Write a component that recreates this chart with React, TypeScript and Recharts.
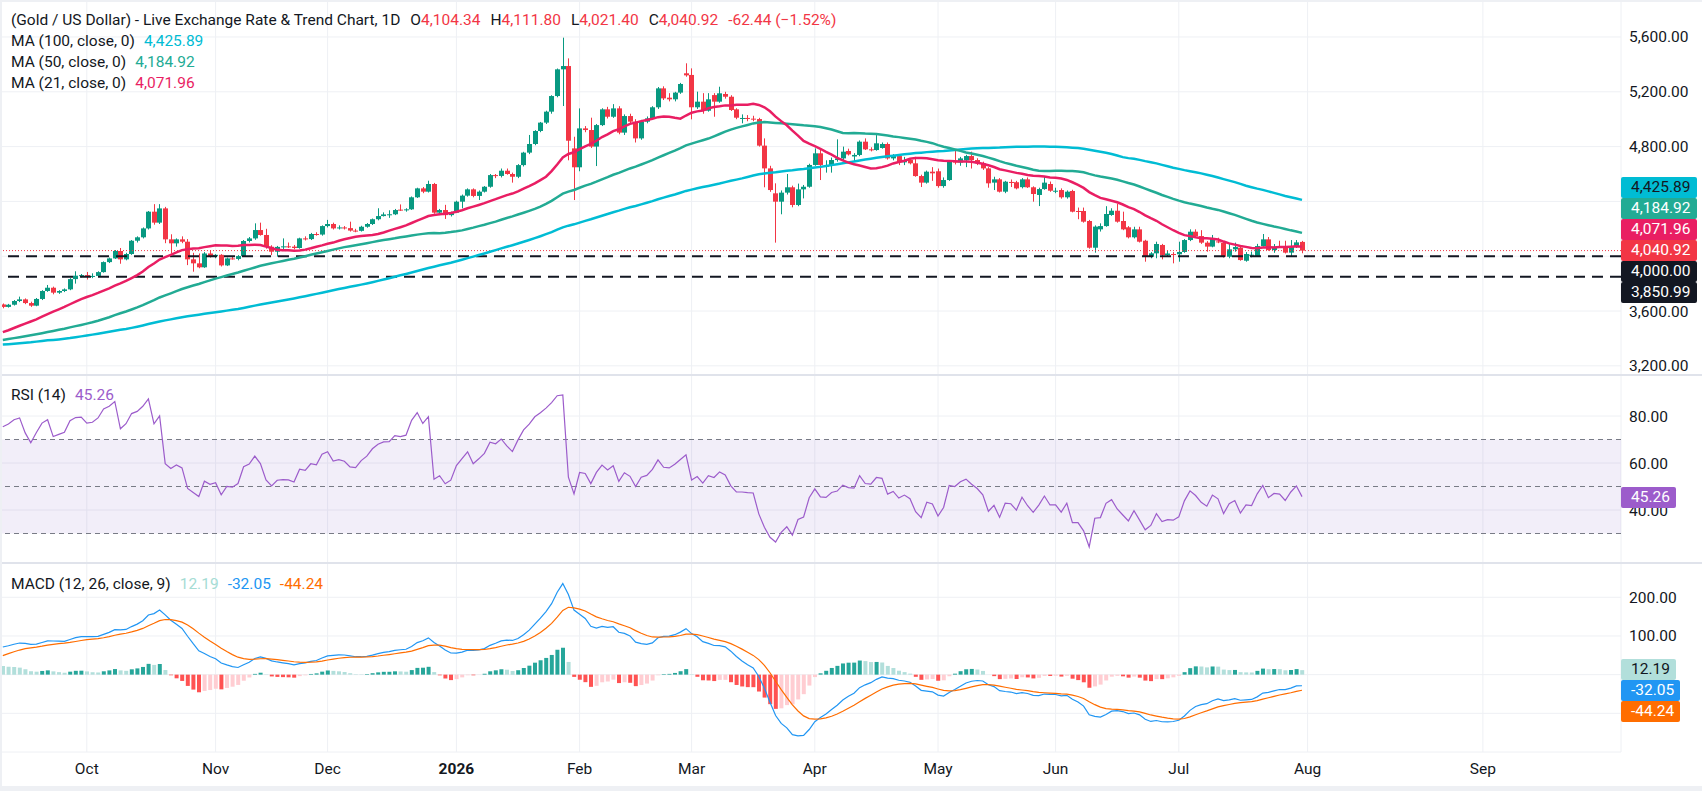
import React from "react";
import {
  ComposedChart,
  Bar,
  Line,
  XAxis,
  YAxis,
  CartesianGrid,
  ReferenceLine,
  ReferenceArea,
  Cell,
} from "recharts";

// ---- data -------------------------------------------------------------
// daily closes before the visible window (needed to warm up MA100 / RSI / MACD)
const historyCloses = [
  3424, 3381, 3288, 3349, 3319, 3344, 3317, 3288,
  3239, 3241, 3334, 3431, 3365, 3306, 3325, 3235, 3248, 3177, 3240, 3203, 3230, 3290, 3314, 3294, 3357, 3342, 3300, 3288, 3318, 3289,
  3380, 3353, 3373, 3352, 3310, 3325, 3322, 3354, 3386, 3432, 3384, 3388, 3369, 3369, 3368, 3368, 3323, 3333, 3328, 3274, 3303,
  3338, 3357, 3326, 3337, 3336, 3301, 3313, 3324, 3355, 3343, 3324, 3347, 3339, 3350, 3397, 3431, 3387, 3368, 3337, 3314, 3326, 3275, 3289,
  3363, 3373, 3380, 3369, 3397, 3398, 3342, 3348, 3356, 3335, 3336, 3332, 3316, 3348, 3339, 3372, 3365, 3393, 3397, 3416, 3448,
  3477, 3533, 3578, 3545, 3587, 3636, 3627,
];

// visible daily candles, 10 Sep 2025 .. 31 Jul 2026
const opens = [
  3648, 3630, 3646, 3673, 3685, 3658, 3639, 3688, 3746, 3770,
  3734, 3746, 3758, 3833, 3858, 3862, 3850, 3856, 3884, 3957,
  3984, 4038, 3977, 4016, 4113, 4138, 4203, 4325, 4245, 4349,
  4123, 4094, 4123, 4106, 3977, 3948, 3919, 4020, 4000, 4010,
  3933, 3984, 3980, 4001, 4111, 4130, 4191, 4155, 4069, 4033,
  4068, 4072, 4070, 4060, 4130, 4125, 4162, 4158, 4220, 4235,
  4203, 4210, 4205, 4187, 4185, 4215, 4235, 4270, 4293, 4305,
  4306, 4340, 4335, 4342, 4430, 4495, 4471, 4527, 4318, 4337,
  4300, 4318, 4398, 4442, 4488, 4440, 4471, 4507, 4592, 4586,
  4624, 4600, 4580, 4665, 4756, 4819, 4914, 4975, 5055, 5169,
  5364, 5388, 4787, 4649, 4933, 4921, 4800, 4957, 5072, 5018,
  5079, 4902, 5023, 4982, 4860, 4982, 5006, 5087, 5225, 5157,
  5145, 5194, 5335, 5323, 5087, 5128, 5062, 5176, 5128, 5184,
  5164, 5072, 5006, 5009, 5004, 5001, 4807, 4641, 4459, 4398,
  4464, 4503, 4374, 4488, 4507, 4666, 4751, 4656, 4660, 4702,
  4714, 4768, 4728, 4739, 4836, 4780, 4775, 4790, 4819, 4714,
  4731, 4685, 4702, 4678, 4585, 4537, 4617, 4620, 4512, 4556,
  4690, 4683, 4700, 4731, 4702, 4678, 4641, 4537, 4561, 4471,
  4542, 4540, 4504, 4561, 4503, 4447, 4490, 4527, 4478, 4483,
  4430, 4476, 4330, 4330, 4257, 4062, 4196, 4220, 4301, 4332,
  4257, 4211, 4138, 4196, 4113, 3996, 4021, 4082, 4009, 4016,
  4014, 4031, 4118, 4179, 4147, 4099, 4070, 4108, 4099, 3996,
  4050, 4062, 3967, 4011, 4001, 4074, 4123, 4045, 4069, 4065,
  4026, 4069, 4104.34,
];
const highs = [
  3655, 3652, 3680, 3705, 3692, 3668, 3695, 3752, 3790, 3778,
  3752, 3765, 3840, 3890, 3870, 3885, 3875, 3890, 3962, 3990,
  4045, 4060, 4025, 4118, 4145, 4210, 4330, 4380, 4380, 4360,
  4160, 4130, 4145, 4125, 4025, 4020, 4030, 4045, 4015, 4015,
  3990, 3995, 4008, 4118, 4140, 4240, 4245, 4200, 4080, 4075,
  4130, 4100, 4082, 4135, 4145, 4170, 4175, 4225, 4265, 4245,
  4225, 4220, 4252, 4200, 4222, 4242, 4275, 4350, 4320, 4335,
  4345, 4378, 4350, 4436, 4500, 4505, 4551, 4535, 4345, 4375,
  4325, 4405, 4450, 4495, 4495, 4480, 4512, 4600, 4600, 4640,
  4640, 4610, 4672, 4762, 4885, 4920, 4980, 5062, 5175, 5370,
  5595, 5444, 4872, 5079, 4950, 5011, 4965, 5080, 5090, 5110,
  5095, 5035, 5040, 5000, 4995, 5020, 5095, 5235, 5240, 5190,
  5200, 5265, 5408, 5371, 5201, 5190, 5190, 5190, 5237, 5200,
  5175, 5080, 5035, 5030, 5025, 5010, 4860, 4660, 4532, 4480,
  4600, 4515, 4530, 4520, 4675, 4787, 4780, 4700, 4720, 4853,
  4800, 4785, 4752, 4845, 4860, 4795, 4884, 4830, 4830, 4745,
  4740, 4725, 4710, 4725, 4595, 4625, 4650, 4640, 4575, 4695,
  4775, 4725, 4740, 4763, 4715, 4690, 4650, 4580, 4570, 4550,
  4560, 4550, 4570, 4575, 4510, 4500, 4585, 4545, 4500, 4495,
  4480, 4485, 4355, 4355, 4265, 4225, 4240, 4365, 4350, 4381,
  4325, 4220, 4215, 4215, 4120, 4030, 4106, 4090, 4040, 4030,
  4106, 4125, 4196, 4196, 4190, 4110, 4155, 4135, 4110, 4090,
  4099, 4075, 4030, 4034, 4090, 4162, 4140, 4089, 4113, 4113,
  4118, 4118, 4111.8,
];
const lows = [
  3620, 3625, 3640, 3665, 3650, 3630, 3635, 3680, 3740, 3722,
  3725, 3738, 3752, 3800, 3845, 3830, 3840, 3850, 3880, 3950,
  3980, 3945, 3970, 4010, 4100, 4130, 4195, 4230, 4235, 4095,
  4020, 4070, 4095, 3935, 3887, 3912, 3915, 3990, 3985, 3925,
  3928, 3975, 3970, 3995, 4100, 4120, 4150, 4055, 4008, 3997,
  4050, 4060, 4050, 4055, 4115, 4118, 4150, 4150, 4210, 4195,
  4195, 4195, 4180, 4175, 4180, 4208, 4228, 4262, 4290, 4280,
  4300, 4330, 4325, 4338, 4425, 4460, 4465, 4310, 4300, 4272,
  4290, 4315, 4350, 4435, 4430, 4410, 4465, 4500, 4570, 4575,
  4595, 4537, 4570, 4655, 4745, 4810, 4905, 4965, 5040, 5160,
  5096, 4700, 4410, 4620, 4905, 4790, 4658, 4950, 5005, 5010,
  4890, 4885, 4970, 4830, 4850, 4970, 4995, 5075, 5140, 5130,
  5130, 5185, 5310, 4999, 5075, 5040, 5055, 5018, 5120, 5150,
  5060, 5000, 4970, 4985, 4985, 4800, 4503, 4470, 4099, 4306,
  4450, 4357, 4365, 4422, 4500, 4660, 4556, 4610, 4610, 4690,
  4695, 4735, 4690, 4730, 4775, 4765, 4770, 4785, 4705, 4700,
  4665, 4665, 4670, 4580, 4505, 4530, 4550, 4500, 4500, 4550,
  4670, 4660, 4650, 4640, 4665, 4630, 4500, 4483, 4465, 4460,
  4505, 4488, 4495, 4498, 4398, 4366, 4485, 4470, 4460, 4420,
  4420, 4320, 4270, 4245, 4055, 4026, 4180, 4215, 4295, 4245,
  4190, 4130, 4130, 4100, 3960, 3985, 3985, 3977, 3995, 3948,
  3960, 4025, 4110, 4140, 4090, 4033, 4065, 4095, 3990, 3985,
  4033, 3967, 3960, 3992, 3995, 4070, 4040, 4025, 4060, 4020,
  3996, 4060, 4021.4,
];
const closes = [
  3630, 3646, 3673, 3685, 3658, 3639, 3688, 3746, 3770, 3734,
  3746, 3758, 3833, 3858, 3862, 3850, 3856, 3884, 3957, 3984,
  4038, 3977, 4016, 4113, 4138, 4203, 4325, 4245, 4349, 4123,
  4094, 4123, 4106, 3977, 3948, 3919, 4020, 4000, 4010, 3933,
  3984, 3980, 4001, 4111, 4130, 4191, 4155, 4069, 4033, 4068,
  4072, 4070, 4060, 4130, 4125, 4162, 4158, 4220, 4235, 4203,
  4210, 4205, 4187, 4185, 4215, 4235, 4270, 4293, 4305, 4306,
  4337, 4335, 4342, 4430, 4495, 4471, 4527, 4318, 4337, 4300,
  4318, 4398, 4442, 4488, 4440, 4471, 4507, 4592, 4586, 4624,
  4600, 4580, 4665, 4756, 4819, 4914, 4975, 5055, 5169, 5364,
  5388, 4843, 4649, 4933, 4921, 4800, 4957, 5072, 5018, 5079,
  4902, 5023, 4982, 4860, 4982, 5006, 5087, 5225, 5152, 5145,
  5194, 5257, 5320, 5087, 5128, 5062, 5145, 5128, 5189, 5164,
  5067, 5011, 5009, 5004, 5001, 4807, 4641, 4483, 4398, 4464,
  4503, 4374, 4488, 4507, 4666, 4751, 4666, 4660, 4702, 4714,
  4763, 4743, 4739, 4836, 4780, 4775, 4824, 4819, 4714, 4731,
  4685, 4702, 4678, 4585, 4537, 4617, 4605, 4512, 4556, 4690,
  4683, 4714, 4731, 4702, 4678, 4641, 4532, 4561, 4471, 4544,
  4540, 4495, 4561, 4503, 4454, 4490, 4537, 4478, 4478, 4430,
  4471, 4325, 4325, 4252, 4062, 4216, 4220, 4308, 4332, 4252,
  4196, 4138, 4196, 4106, 3996, 4021, 4089, 4009, 4020, 4014,
  4031, 4118, 4179, 4147, 4099, 4070, 4131, 4106, 3996, 4050,
  4067, 3972, 4016, 4011, 4074, 4123, 4045, 4069, 4065, 4026,
  4069, 4101, 4040.92,
];

// first bar of each month (bar index) and its label
const monthTicks = [15, 38, 58, 81, 103, 123, 145, 167, 188, 210, 233, 264.3];
const monthLabels = ["Oct", "Nov", "Dec", "2026", "Feb", "Mar", "Apr", "May", "Jun", "Jul", "Aug", "Sep"];

const priceTicks = [3200, 3600, 4000, 4400, 4800, 5200, 5600];
const rsiTicks = [20, 40, 60, 80];
const macdTicks = [-100, 0, 100, 200];
// tick values whose labels sit under a value badge (grid line kept, label not drawn)
const coveredTicks = [4000, 4400, 0, -100];
const levelLines = [4000, 3850.99];
const lastPrice = 4040.92;

// ---- look --------------------------------------------------------------
const W = 1702;
const PLOT_W = 1621;
const AXIS_W = W - PLOT_W;
const FONT = "Roboto, 'Noto Sans', sans-serif";
const FS = 15.5;
const TXT = "#131722";
const GRID = "#eef0f4";
const UP = "#089981";
const DOWN = "#f23645";
const MA100_C = "#00bcd4";
const MA50_C = "#22ab94";
const MA21_C = "#e91e63";
const RSI_C = "#9c5ccb";
const MACD_C = "#2196f3";
const SIG_C = "#ff6d00";
const X_DOMAIN = [-0.5, PLOT_W / 5.6 - 0.5];

const PRICE = { top: 0, h: 375, min: 3133, max: 5870 };
const RSI_P = { top: 375, h: 188, min: 17.45, max: 97.45 };
const MACD_P = { top: 563, h: 189, min: -200, max: 288.6 };

// ---- indicators --------------------------------------------------------
const all = [...historyCloses, ...closes];
const off = historyCloses.length;

const sma = (g: number, len: number) => {
  let s = 0;
  for (let k = g - len + 1; k <= g; k++) s += all[k];
  return s / len;
};

const ema = (src: number[], len: number) => {
  const a = 2 / (len + 1);
  const out: number[] = [];
  let prev = src[0];
  src.forEach((v, k) => {
    prev = k === 0 ? v : a * v + (1 - a) * prev;
    out.push(prev);
  });
  return out;
};

const e12 = ema(all, 12);
const e26 = ema(all, 26);
const macdAll = e12.map((v, k) => v - e26[k]);
const sigAll = ema(macdAll, 9);

const rsiAll: number[] = [50];
let ag = 0;
let al = 0;
for (let k = 1; k < all.length; k++) {
  const ch = all[k] - all[k - 1];
  const g = Math.max(ch, 0);
  const l = Math.max(-ch, 0);
  if (k <= 14) {
    ag += g / 14;
    al += l / 14;
  } else {
    ag = (ag * 13 + g) / 14;
    al = (al * 13 + l) / 14;
  }
  rsiAll.push(al === 0 ? 100 : 100 - 100 / (1 + ag / al));
}

const rows = closes.map((c, i) => {
  const g = off + i;
  const hist = macdAll[g] - sigAll[g];
  const prevHist = macdAll[g - 1] - sigAll[g - 1];
  let histColor;
  if (hist >= 0) histColor = hist >= prevHist ? "#26a69a" : "#b2dfdb";
  else histColor = hist <= prevHist ? "#ff5252" : "#ffcdd2";
  return {
    i,
    o: opens[i],
    h: highs[i],
    l: lows[i],
    c,
    range: [lows[i], highs[i]],
    ma21: sma(g, 21),
    ma50: sma(g, 50),
    ma100: sma(g, 100),
    rsi: rsiAll[g],
    macd: macdAll[g],
    signal: sigAll[g],
    hist,
    histColor,
  };
});

// ---- helpers -----------------------------------------------------------
const fmt = (v: number) =>
  coveredTicks.includes(v)
    ? ""
    : v.toLocaleString("en-US", { minimumFractionDigits: 2, maximumFractionDigits: 2 });

const yOf = (p: { top: number; h: number; min: number; max: number }, v: number) =>
  p.top + ((p.max - v) / (p.max - p.min)) * p.h;

const Candle = (props: any) => {
  const { x, y, width, height, payload } = props;
  const { o, h, l, c } = payload;
  const top = height < 0 ? y + height : y;
  const hh = Math.abs(height);
  const k = h === l ? 0 : hh / (h - l);
  const bodyTop = top + (h - Math.max(o, c)) * k;
  const bodyH = Math.max(1, Math.abs(o - c) * k);
  const cx = Math.round(x + width / 2) + 0.5;
  const col = c >= o ? UP : DOWN;
  return (
    <g>
      <line x1={cx} x2={cx} y1={top} y2={top + hh} stroke={col} strokeWidth={1} />
      <rect x={cx - 2.5} y={bodyTop} width={5} height={bodyH} fill={col} />
    </g>
  );
};

const MonthTick = (props: any) => {
  const { x, y, payload } = props;
  const idx = monthTicks.indexOf(payload.value);
  const lab = monthLabels[idx];
  return (
    <text
      x={x}
      y={y}
      dy={14}
      textAnchor="middle"
      fontSize={FS}
      fontFamily={FONT}
      fontWeight={lab === "2026" ? 700 : 400}
      fill={TXT}
    >
      {lab}
    </text>
  );
};

const axisTick = { fill: TXT, fontSize: FS, fontFamily: FONT };

type Badge = { v: number; text: string; bg: string; fg: string };

// stack labels on the value scale around an anchor so they do not overlap
const stackBadges = (p: any, list: Badge[], anchor: number) => {
  const ys: number[] = [];
  ys[anchor] = yOf(p, list[anchor].v);
  for (let k = anchor - 1; k >= 0; k--) ys[k] = Math.min(yOf(p, list[k].v), ys[k + 1] - 21);
  for (let k = anchor + 1; k < list.length; k++) ys[k] = Math.max(yOf(p, list[k].v), ys[k - 1] + 21);
  return list.map((b, k) => ({ ...b, y: ys[k] }));
};

const priceBadges = stackBadges(
  PRICE,
  [
    { v: 4425.89, text: "4,425.89", bg: MA100_C, fg: TXT },
    { v: 4184.92, text: "4,184.92", bg: MA50_C, fg: "#fff" },
    { v: 4071.96, text: "4,071.96", bg: MA21_C, fg: "#fff" },
    { v: lastPrice, text: "4,040.92", bg: DOWN, fg: "#fff" },
    { v: 4000, text: "4,000.00", bg: TXT, fg: "#fff" },
    { v: 3850.99, text: "3,850.99", bg: TXT, fg: "#fff" },
  ],
  3
);
const rsiBadges = stackBadges(RSI_P, [{ v: 45.26, text: "45.26", bg: RSI_C, fg: "#fff" }], 0);
const macdBadges = stackBadges(
  MACD_P,
  [
    { v: 12.19, text: "12.19", bg: "#b2dfdb", fg: TXT },
    { v: -32.05, text: "-32.05", bg: MACD_C, fg: "#fff" },
    { v: -44.24, text: "-44.24", bg: SIG_C, fg: "#fff" },
  ],
  0
);

const BadgeBox = ({ b, width }: { b: any; width?: number }) => (
  <div
    style={{
      position: "absolute",
      left: PLOT_W,
      top: b.y - 10.5,
      height: 21,
      lineHeight: "21px",
      width,
      padding: width ? "0 0 0 10px" : "0 6px 0 10px",
      boxSizing: "border-box",
      background: b.bg,
      color: b.fg,
      fontSize: FS,
      borderRadius: 2,
      whiteSpace: "nowrap",
    }}
  >
    {b.text}
  </div>
);

const legendLine = (top: number, children: React.ReactNode) => (
  <div
    style={{
      position: "absolute",
      left: 11,
      top,
      height: 21,
      lineHeight: "21px",
      fontSize: FS,
      color: TXT,
      whiteSpace: "nowrap",
    }}
  >
    {children}
  </div>
);

const val = (s: string, color: string, gap = 9) => (
  <span style={{ color, marginLeft: gap }}>{s}</span>
);
const ohlc = (letter: string, s: string) => (
  <span style={{ marginLeft: 10 }}>
    {letter}
    <span style={{ color: DOWN }}>{s}</span>
  </span>
);

export default function App() {
  return (
    <div
      style={{
        position: "absolute",
        left: 0,
        top: 0,
        width: W,
        height: 791,
        background: "#fff",
        fontFamily: FONT,
        overflow: "hidden",
      }}
    >
      {/* price pane */}
      <div style={{ position: "absolute", left: 0, top: PRICE.top }}>
        <ComposedChart width={W} height={PRICE.h} data={rows} margin={{ top: 0, right: 0, bottom: 0, left: 0 }}>
          <CartesianGrid stroke={GRID} />
          <XAxis dataKey="i" type="number" domain={X_DOMAIN} ticks={monthTicks} allowDataOverflow hide />
          <YAxis
            orientation="right"
            width={AXIS_W}
            type="number"
            domain={[PRICE.min, PRICE.max]}
            ticks={priceTicks}
            allowDataOverflow
            tickLine={false}
            axisLine={false}
            tick={axisTick}
            tickFormatter={fmt}
          />
          {levelLines.map((v) => (
            <ReferenceLine key={v} y={v} stroke={TXT} strokeWidth={2} strokeDasharray="11 7" />
          ))}
          <ReferenceLine y={lastPrice} stroke={DOWN} strokeWidth={1} strokeDasharray="1 2" />
          <Bar dataKey="range" barSize={5} shape={Candle} isAnimationActive={false} />
          <Line dataKey="ma100" stroke={MA100_C} strokeWidth={2.5} dot={false} isAnimationActive={false} />
          <Line dataKey="ma50" stroke={MA50_C} strokeWidth={2.5} dot={false} isAnimationActive={false} />
          <Line dataKey="ma21" stroke={MA21_C} strokeWidth={2.5} dot={false} isAnimationActive={false} />
        </ComposedChart>
      </div>

      {/* RSI pane */}
      <div style={{ position: "absolute", left: 0, top: RSI_P.top }}>
        <ComposedChart width={W} height={RSI_P.h} data={rows} margin={{ top: 0, right: 0, bottom: 0, left: 0 }}>
          <CartesianGrid stroke={GRID} />
          <XAxis dataKey="i" type="number" domain={X_DOMAIN} ticks={monthTicks} allowDataOverflow hide />
          <YAxis
            orientation="right"
            width={AXIS_W}
            type="number"
            domain={[RSI_P.min, RSI_P.max]}
            ticks={rsiTicks}
            allowDataOverflow
            tickLine={false}
            axisLine={false}
            tick={axisTick}
            tickFormatter={fmt}
          />
          <ReferenceArea y1={30} y2={70} fill="#7e57c2" fillOpacity={0.1} stroke="none" />
          {[70, 50, 30].map((v) => (
            <ReferenceLine key={v} y={v} stroke="#787b86" strokeDasharray="5 4" />
          ))}
          <Line dataKey="rsi" stroke={RSI_C} strokeWidth={1.2} dot={false} isAnimationActive={false} />
        </ComposedChart>
      </div>

      {/* MACD pane */}
      <div style={{ position: "absolute", left: 0, top: MACD_P.top }}>
        <ComposedChart width={W} height={223} data={rows} margin={{ top: 0, right: 0, bottom: 0, left: 0 }}>
          <CartesianGrid stroke={GRID} />
          <XAxis
            dataKey="i"
            type="number"
            domain={X_DOMAIN}
            ticks={monthTicks}
            allowDataOverflow
            height={34}
            tickLine={false}
            axisLine={false}
            tick={<MonthTick />}
            interval={0}
          />
          <YAxis
            orientation="right"
            width={AXIS_W}
            type="number"
            domain={[MACD_P.min, MACD_P.max]}
            ticks={macdTicks}
            allowDataOverflow
            tickLine={false}
            axisLine={false}
            tick={axisTick}
            tickFormatter={fmt}
          />
          <Bar dataKey="hist" barSize={4} isAnimationActive={false}>
            {rows.map((r) => (
              <Cell key={r.i} fill={r.histColor} />
            ))}
          </Bar>
          <Line dataKey="macd" stroke={MACD_C} strokeWidth={1.2} dot={false} isAnimationActive={false} />
          <Line dataKey="signal" stroke={SIG_C} strokeWidth={1.2} dot={false} isAnimationActive={false} />
        </ComposedChart>
      </div>

      {/* pane separators and frame */}
      <div style={{ position: "absolute", left: 0, top: 374, width: W, height: 2, background: "#e0e3eb" }} />
      <div style={{ position: "absolute", left: 0, top: 562, width: W, height: 2, background: "#e0e3eb" }} />
      <div style={{ position: "absolute", left: 0, top: 0, width: W, height: 2, background: "#eef0f4" }} />
      <div style={{ position: "absolute", left: 0, top: 786, width: W, height: 5, background: "#eef0f4" }} />
      <div style={{ position: "absolute", left: 0, top: 0, width: 2, height: 791, background: "#eef0f4" }} />

      {/* legends */}
      {legendLine(
        10,
        <>
          (Gold / US Dollar) - Live Exchange Rate &amp; Trend Chart, 1D
          {ohlc("O", "4,104.34")}
          {ohlc("H", "4,111.80")}
          {ohlc("L", "4,021.40")}
          {ohlc("C", "4,040.92")}
          {val("-62.44 (\u22121.52%)", DOWN, 10)}
        </>
      )}
      {legendLine(31, <>MA (100, close, 0){val("4,425.89", MA100_C)}</>)}
      {legendLine(52, <>MA (50, close, 0){val("4,184.92", MA50_C)}</>)}
      {legendLine(73, <>MA (21, close, 0){val("4,071.96", MA21_C)}</>)}
      {legendLine(385, <>RSI (14){val("45.26", RSI_C)}</>)}
      {legendLine(
        574,
        <>
          MACD (12, 26, close, 9)
          {val("12.19", "#a5dcd4")}
          {val("-32.05", MACD_C)}
          {val("-44.24", SIG_C)}
        </>
      )}

      {/* scale badges */}
      {priceBadges.map((b) => (
        <BadgeBox key={b.text} b={b} width={76} />
      ))}
      {rsiBadges.map((b) => (
        <BadgeBox key={b.text} b={b} />
      ))}
      {macdBadges.map((b) => (
        <BadgeBox key={b.text} b={b} />
      ))}
    </div>
  );
}
